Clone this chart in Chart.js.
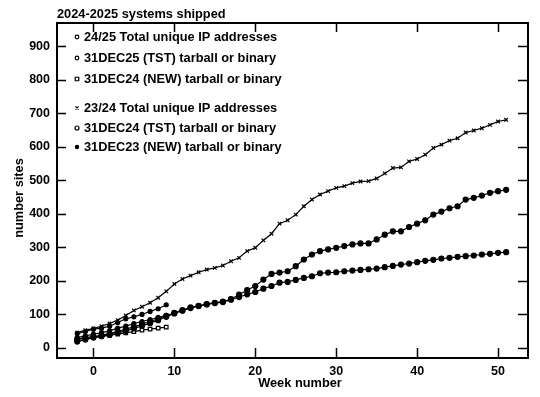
<!DOCTYPE html>
<html>
<head>
<meta charset="utf-8">
<script src="https://cdn.jsdelivr.net/npm/chart.js@4.4.1/dist/chart.umd.min.js"></script>
<style>
  html, body { margin: 0; padding: 0; background: #fff; }
  #wrap { width: 540px; height: 397px; position: relative; }
</style>
</head>
<body>
<div id="wrap"><canvas id="chart" width="540" height="397"></canvas></div>
<script>
// weeks for last year's full run and this year's partial run
const weeks2324 = [-2,-1,0,1,2,3,4,5,6,7,8,9,10,11,12,13,14,15,16,17,18,19,20,21,22,23,24,25,26,27,28,29,30,31,32,33,34,35,36,37,38,39,40,41,42,43,44,45,46,47,48,49,50,51];
const weeks2425 = [-2,-1,0,1,2,3,4,5,6,7,8,9];

const total2324 = [45,52,57,64,72,82,96,111,122,134,149,168,190,205,215,225,233,238,245,258,268,288,298,320,340,370,380,397,422,442,457,467,477,482,491,496,497,505,520,536,538,556,563,576,596,606,618,625,642,648,655,665,675,680];
const tst2324 = [25,30,33,37,42,48,55,62,70,78,86,95,104,112,120,125,130,134,137,145,158,172,184,203,220,224,228,243,263,278,288,293,298,303,308,311,311,323,337,347,347,360,370,380,397,406,416,422,442,447,454,462,467,471];
const new2324 = [18,24,30,34,38,44,50,57,65,73,82,92,102,110,118,124,129,133,136,143,151,159,166,176,184,194,196,202,208,213,222,224,225,228,230,232,234,236,240,244,248,251,255,259,262,266,268,271,273,275,278,280,283,285];

const total2425 = [42,48,55,58,64,75,86,92,99,108,116,128];
const tst2425 = [30,35,40,45,50,58,64,72,78,84,90,96];
const new2425 = [20,25,30,33,37,40,44,48,52,55,58,61];

const xTicks = [0,10,20,30,40,50];
const yTicks = [0,100,200,300,400,500,600,700,800,900];

const toPts = (xs, ys) => xs.map((x, i) => ({ x: x, y: ys[i] }));

const FONT = '"Liberation Sans", Arial, sans-serif';

const ds = (label, xs, ys, style, radius, fill) => ({
  label: label,
  data: toPts(xs, ys),
  borderColor: '#000',
  borderWidth: 1.2,
  pointStyle: style,
  pointRadius: radius,
  pointBorderWidth: 1.2,
  pointBackgroundColor: fill ? '#000' : '#fff',
  pointBorderColor: '#000',
  tension: 0,
  fill: false
});

const datasets = [
  ds('23/24 Total unique IP addresses', weeks2324, total2324, 'crossRot', 2.5, false),
  ds('31DEC24 (TST) tarball or binary', weeks2324, tst2324, 'circle', 2.5, true),
  ds('31DEC23 (NEW) tarball or binary', weeks2324, new2324, 'circle', 2.5, true),
  ds('24/25 Total unique IP addresses', weeks2425, total2425, 'circle', 2, true),
  ds('31DEC25 (TST) tarball or binary', weeks2425, tst2425, 'circle', 2, true),
  ds('31DEC24 (NEW) tarball or binary', weeks2425, new2425, 'rect', 2.5, false)
];

// legend rows: dataset index, y position; small gap between the two seasons
const legendRows = [
  { i: 3, y: 37, style: 'circle', r: 1.8, fill: false },
  { i: 4, y: 58, style: 'circle', r: 1.8, fill: false },
  { i: 5, y: 79, style: 'rect', r: 2.5, fill: false },
  { i: 0, y: 108, style: 'crossRot', r: 2.2, fill: false },
  { i: 1, y: 128, style: 'circle', r: 2, fill: false },
  { i: 2, y: 147, style: 'circle', r: 1.6, fill: true }
];

const framePlugin = {
  id: 'frame',
  afterDraw(chart) {
    const { ctx, chartArea: a, scales: { x, y } } = chart;
    ctx.save();
    ctx.strokeStyle = '#000';
    ctx.lineWidth = 2;
    ctx.strokeRect(a.left, a.top, a.right - a.left, a.bottom - a.top);

    ctx.lineWidth = 1.5;
    ctx.beginPath();
    xTicks.forEach(t => {
      const px = Math.round(x.getPixelForValue(t)) + 0.5;
      ctx.moveTo(px, a.bottom); ctx.lineTo(px, a.bottom - 10);
      ctx.moveTo(px, a.top); ctx.lineTo(px, a.top + 9);
    });
    yTicks.forEach(t => {
      const py = Math.round(y.getPixelForValue(t)) + 0.5;
      ctx.moveTo(a.left, py); ctx.lineTo(a.left + 9, py);
      ctx.moveTo(a.right, py); ctx.lineTo(a.right - 10, py);
    });
    ctx.stroke();

    ctx.fillStyle = '#000';
    ctx.font = 'bold 12.8px ' + FONT;
    ctx.textBaseline = 'middle';
    ctx.textAlign = 'left';
    ctx.fillText('2024-2025 systems shipped', 57, 14);

    ctx.textAlign = 'center';
    ctx.fillText('Week number', 300, 383);

    ctx.save();
    ctx.translate(19, 198);
    ctx.rotate(-Math.PI / 2);
    ctx.fillText('number sites', 0, 0);
    ctx.restore();

    ctx.textAlign = 'left';
    legendRows.forEach(row => {
      ctx.fillStyle = row.fill ? '#000' : '#fff';
      ctx.strokeStyle = '#000';
      ctx.lineWidth = 1.2;
      Chart.helpers.drawPoint(ctx, { pointStyle: row.style, radius: row.r, rotation: 0, borderWidth: 1.2 }, 77, row.y);
      ctx.fillStyle = '#000';
      ctx.fillText(chart.data.datasets[row.i].label, 84, row.y);
    });
    ctx.restore();
  }
};

const chartConfig = {
  type: 'line',
  data: { datasets: datasets },
  options: {
    responsive: false,
    animation: false,
    layout: { padding: { left: 0, top: 23, right: 12, bottom: 0 } },
    plugins: { legend: { display: false }, tooltip: { enabled: false } },
    scales: {
      x: {
        type: 'linear',
        min: -4.5,
        max: 53.7,
        afterBuildTicks: s => { s.ticks = xTicks.map(v => ({ value: v })); },
        afterFit: s => { s.height = 39; },
        grid: { display: false, drawTicks: false },
        border: { display: false },
        ticks: { color: '#000', font: { family: FONT, size: 12.5, weight: 'bold' }, padding: 6, maxRotation: 0 }
      },
      y: {
        min: -31,
        max: 969,
        afterBuildTicks: s => { s.ticks = yTicks.map(v => ({ value: v })); },
        afterFit: s => { s.width = 57; },
        grid: { display: false, drawTicks: false },
        border: { display: false },
        ticks: { color: '#000', font: { family: FONT, size: 12.5, weight: 'bold' }, padding: 7 }
      }
    }
  },
  plugins: [framePlugin]
};

new Chart(document.getElementById('chart'), chartConfig);
</script>
</body>
</html>
